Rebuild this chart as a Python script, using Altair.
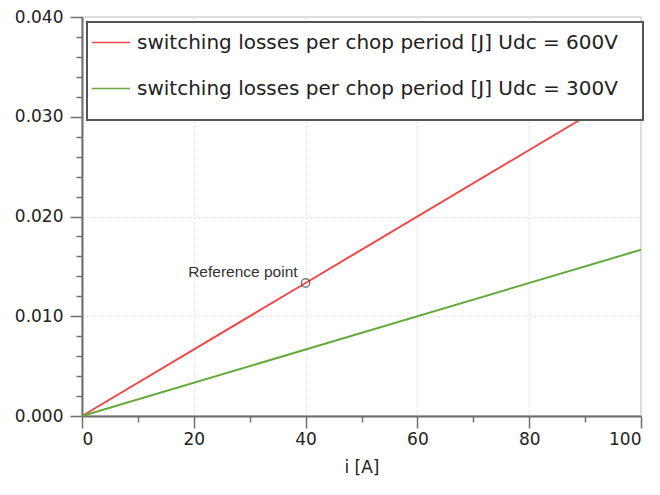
import altair as alt
import pandas as pd

# ---- data ----
current_a = [0, 40, 100]
loss_600v = [0.0, 0.013333, 0.033333]
loss_300v = [0.0, 0.006667, 0.016667]
series_names = [
    "switching losses per chop period [J] Udc = 600V",
    "switching losses per chop period [J] Udc = 300V",
]
series_colors = ["#f04848", "#62aa3c"]
ref_current = [40]
ref_loss = [0.013333]
ref_label = ["Reference point"]
x_ticks = [0, 10, 20, 30, 40, 50, 60, 70, 80, 90, 100]
y_ticks = [round(0.002 * k, 3) for k in range(21)]

rows = []
for i, a, b in zip(current_a, loss_600v, loss_300v):
    rows.append({"i": i, "loss": a, "series": series_names[0]})
    rows.append({"i": i, "loss": b, "series": series_names[1]})
df = pd.DataFrame(rows)
ref_df = pd.DataFrame({"i": ref_current, "loss": ref_loss, "label": ref_label})

FONT = "DejaVu Sans"
AXC = "#6e6e6e"

x_scale = alt.Scale(domain=[0, 100], nice=False, zero=False)
y_scale = alt.Scale(domain=[0, 0.04], nice=False)

x_axis = alt.Axis(
    values=x_ticks,
    tickCount=40,
    title="i [A]",
    labelExpr="datum.value % 20 === 0 ? datum.label : ''",
    tickSize={"condition": {"test": "datum.value % 20 === 0", "value": 12}, "value": 6},
    gridOpacity={"condition": {"test": "datum.value % 20 === 0", "value": 1}, "value": 0},
    labelPadding=3,
    titlePadding=12,
    labelOverlap=False,
)
y_axis = alt.Axis(
    values=y_ticks,
    tickCount=40,
    title=None,
    format=".3f",
    labelExpr="round(datum.value * 1000) % 10 === 0 ? datum.label : ''",
    tickSize={"condition": {"test": "round(datum.value * 1000) % 10 === 0", "value": 12}, "value": 6},
    gridOpacity={"condition": {"test": "round(datum.value * 1000) % 10 === 0", "value": 1}, "value": 0},
    labelPadding=7,
    labelOverlap=False,
)

lines = alt.Chart(df).mark_line(strokeWidth=2).encode(
    x=alt.X("i:Q", scale=x_scale, axis=x_axis),
    y=alt.Y("loss:Q", scale=y_scale, axis=y_axis),
    color=alt.Color("series:N", scale=alt.Scale(domain=series_names, range=series_colors), legend=None),
    detail="series:N",
)

ref_pt = alt.Chart(ref_df).mark_point(
    shape="circle", size=70, filled=False, stroke="#444444", strokeWidth=1.5
).encode(x="i:Q", y="loss:Q")

ref_txt = alt.Chart(ref_df).mark_text(
    align="right", baseline="middle", dx=-8, dy=-11, font="Liberation Sans", fontSize=15.5, color="#333333"
).encode(x="i:Q", y="loss:Q", text="label:N")

# legend box (decoration drawn on top of the plot)
leg_box = alt.Chart(pd.DataFrame({"k": [0]})).mark_rect(
    fill="white", stroke="#555555", strokeWidth=2
).encode(x=alt.value(5), x2=alt.value(561), y=alt.value(5), y2=alt.value(103))

leg_layers = [leg_box]
for name, col, ypix in zip(series_names, series_colors, [25.5, 71.5]):
    d = pd.DataFrame({"name": [name]})
    leg_layers.append(
        alt.Chart(d).mark_rule(color=col, strokeWidth=1.5).encode(
            x=alt.value(10), x2=alt.value(48), y=alt.value(ypix)
        )
    )
    leg_layers.append(
        alt.Chart(d).mark_text(
            align="left", baseline="middle", font=FONT, fontSize=20, color="#222222"
        ).encode(x=alt.value(55), y=alt.value(ypix), text="name:N")
    )

chart = alt.layer(lines, ref_pt, ref_txt, *leg_layers).properties(
    width=559,
    height=399,
    autosize=alt.AutoSizeParams(type="none"),
    padding={"left": 74, "top": 9, "right": 10, "bottom": 70},
    background="white",
).configure_view(
    stroke="#dcdcdc", strokeWidth=2
).configure_axis(
    domainColor=AXC,
    domainWidth=2,
    tickColor=AXC,
    tickWidth=1.5,
    gridColor="#e2e2e2",
    gridDash=[2, 2],
    gridWidth=1.5,
    labelFont=FONT,
    labelFontSize=17,
    labelColor="#222222",
    titleFont=FONT,
    titleFontSize=17,
    titleFontWeight="normal",
    titleColor="#222222",
)

chart.save("out.html", embed_options={"renderer": "svg", "actions": False})
